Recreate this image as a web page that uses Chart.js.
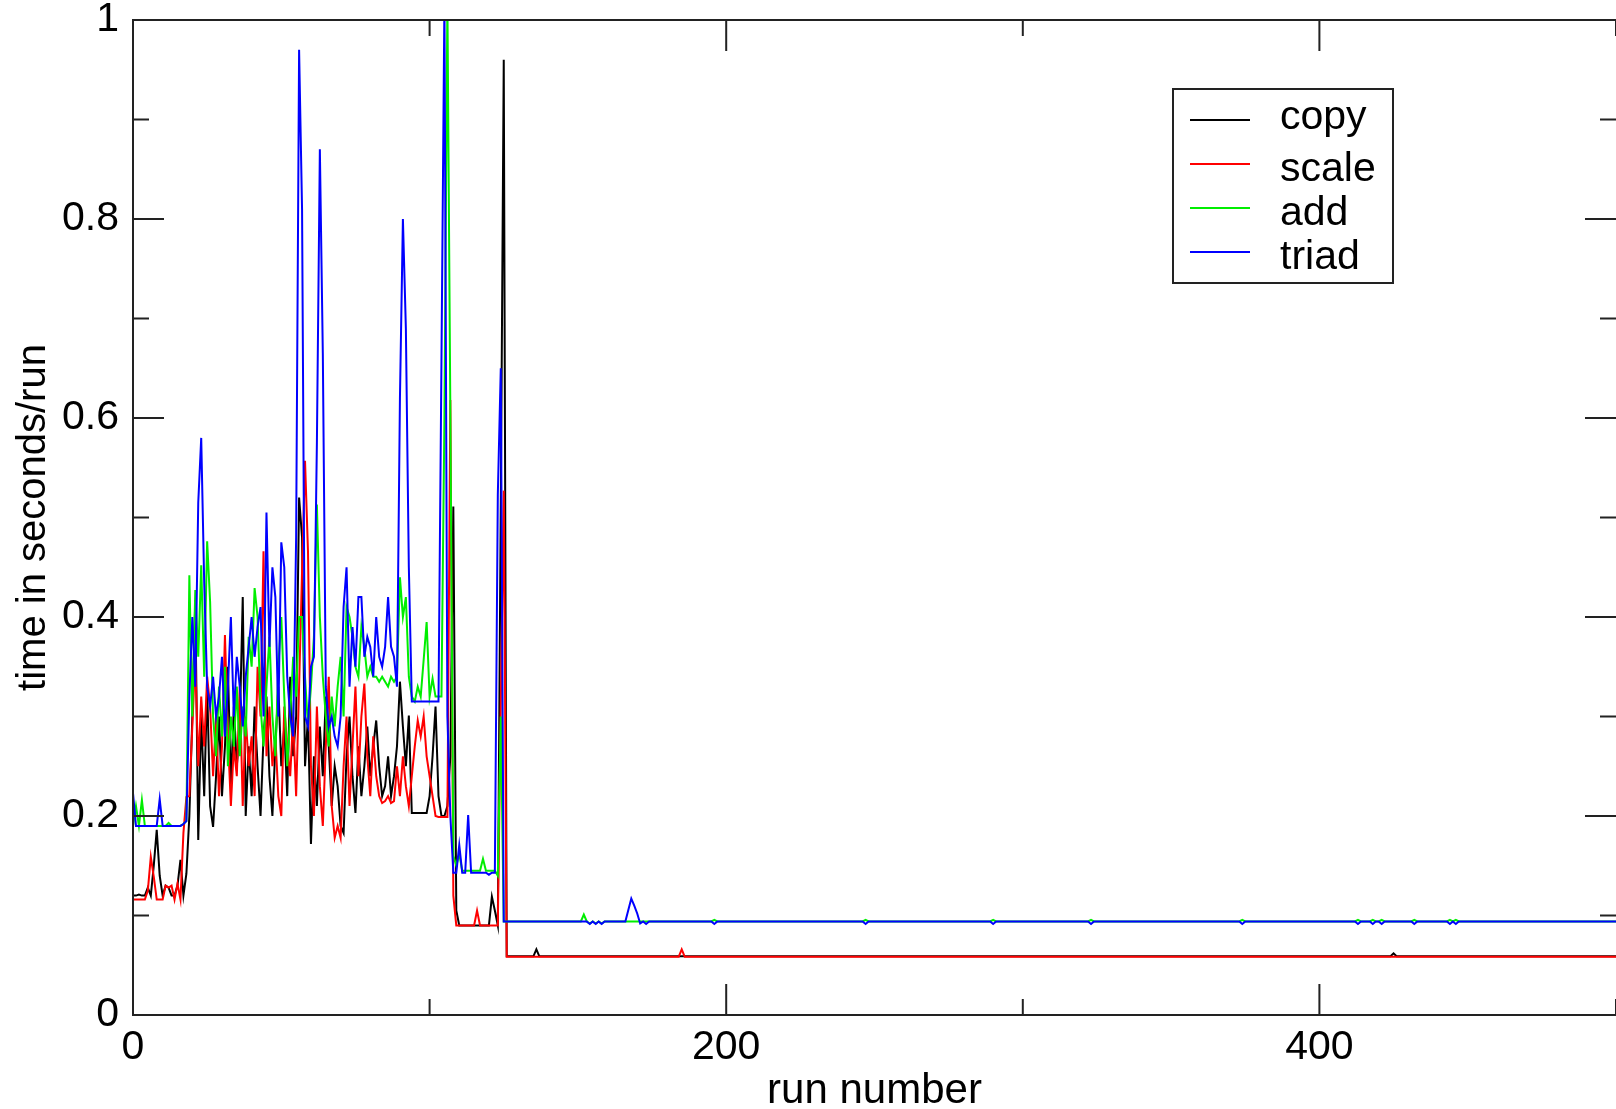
<!DOCTYPE html>
<html>
<head>
<meta charset="utf-8">
<script src="https://cdn.jsdelivr.net/npm/chart.js@4.4.1/dist/chart.umd.min.js"></script>
<style>
  html, body { margin: 0; padding: 0; background: #fff; }
  #wrap { width: 1616px; height: 1109px; }
</style>
</head>
<body>
<div id="wrap"><canvas id="streamChart"></canvas></div>
<script>
// run number = index in the *Early arrays (runs 0..125)
var copyEarly = [
  0.12, 0.12, 0.121, 0.12, 0.12, 0.128, 0.12, 0.15, 0.186, 0.14,
  0.12, 0.13, 0.128, 0.12, 0.12, 0.13, 0.156, 0.12, 0.142, 0.20,
  0.30, 0.417, 0.176, 0.30, 0.22, 0.33, 0.21, 0.189, 0.24, 0.30,
  0.22, 0.27, 0.35, 0.23, 0.31, 0.25, 0.29, 0.42, 0.20, 0.27,
  0.22, 0.31, 0.25, 0.20, 0.28, 0.32, 0.24, 0.20, 0.27, 0.33,
  0.25, 0.29, 0.22, 0.34, 0.26, 0.30, 0.52, 0.48, 0.25, 0.30,
  0.172, 0.26, 0.21, 0.29, 0.24, 0.32, 0.27, 0.21, 0.25, 0.23,
  0.19, 0.183, 0.26, 0.30, 0.24, 0.203, 0.27, 0.22, 0.25, 0.29,
  0.24, 0.27, 0.296, 0.25, 0.22, 0.23, 0.26, 0.22, 0.24, 0.27,
  0.335, 0.29, 0.25, 0.301, 0.203, 0.203, 0.203, 0.203, 0.203, 0.203,
  0.22, 0.26, 0.31, 0.22, 0.20, 0.20, 0.21, 0.26, 0.511, 0.105,
  0.09, 0.09, 0.09, 0.09, 0.09, 0.09, 0.09, 0.09, 0.09, 0.09,
  0.09, 0.119, 0.105, 0.09, 0.513, 0.96
];
var scaleEarly = [
  0.116, 0.116, 0.116, 0.116, 0.116, 0.125, 0.159, 0.139, 0.116, 0.116,
  0.116, 0.13, 0.128, 0.13, 0.116, 0.132, 0.116, 0.183, 0.219, 0.22,
  0.29, 0.36, 0.25, 0.32, 0.27, 0.34, 0.31, 0.24, 0.30, 0.22,
  0.27, 0.382, 0.28, 0.21, 0.27, 0.24, 0.33, 0.21, 0.30, 0.25,
  0.28, 0.22, 0.35, 0.30, 0.466, 0.26, 0.31, 0.25, 0.28, 0.22,
  0.20, 0.31, 0.27, 0.24, 0.30, 0.22, 0.33, 0.446, 0.557, 0.466,
  0.25, 0.20, 0.31, 0.23, 0.19, 0.27, 0.34, 0.21, 0.178, 0.19,
  0.178, 0.25, 0.30, 0.21, 0.27, 0.33, 0.24, 0.30, 0.333, 0.26,
  0.22, 0.28, 0.24, 0.22, 0.213, 0.215, 0.22, 0.213, 0.215, 0.25,
  0.22, 0.26, 0.23, 0.21, 0.24, 0.27, 0.296, 0.28, 0.30, 0.26,
  0.24, 0.22, 0.20, 0.199, 0.199, 0.199, 0.199, 0.618, 0.12, 0.09,
  0.09, 0.09, 0.09, 0.09, 0.09, 0.09, 0.105, 0.09, 0.09, 0.09,
  0.09, 0.09, 0.09, 0.09, 0.31, 0.527
];
var addEarly = [
  0.19, 0.21, 0.19, 0.216, 0.19, 0.19, 0.19, 0.19, 0.19, 0.19,
  0.19, 0.19, 0.193, 0.19, 0.19, 0.19, 0.19, 0.192, 0.195, 0.442,
  0.30, 0.427, 0.36, 0.452, 0.34, 0.476, 0.415, 0.30, 0.26, 0.33,
  0.28, 0.35, 0.25, 0.30, 0.27, 0.33, 0.26, 0.31, 0.28, 0.38,
  0.35, 0.429, 0.40, 0.31, 0.27, 0.33, 0.38, 0.30, 0.26, 0.35,
  0.40, 0.32, 0.25, 0.30, 0.36, 0.32, 0.40, 0.40, 0.34, 0.29,
  0.33, 0.38, 0.513, 0.40, 0.34, 0.30, 0.27, 0.32, 0.29, 0.33,
  0.36, 0.30, 0.41, 0.40, 0.38, 0.35, 0.34, 0.39, 0.37, 0.34,
  0.35, 0.34, 0.34, 0.335, 0.34, 0.335, 0.33, 0.34, 0.335, 0.34,
  0.44, 0.40, 0.42, 0.34, 0.32, 0.315, 0.33, 0.32, 0.357, 0.395,
  0.32, 0.338, 0.32, 0.32, 0.32, 0.60, 1.02, 0.605, 0.16, 0.15,
  0.162, 0.145, 0.145, 0.145, 0.145, 0.145, 0.145, 0.145, 0.157, 0.145,
  0.145, 0.145, 0.145, 0.14, 0.30, 0.094
];
var triadEarly = [
  0.223, 0.19, 0.19, 0.19, 0.19, 0.19, 0.19, 0.19, 0.19, 0.217,
  0.19, 0.19, 0.19, 0.19, 0.19, 0.19, 0.19, 0.192, 0.195, 0.32,
  0.40, 0.33, 0.515, 0.58, 0.435, 0.33, 0.31, 0.34, 0.30, 0.32,
  0.36, 0.28, 0.33, 0.40, 0.30, 0.36, 0.33, 0.29, 0.34, 0.37,
  0.40, 0.36, 0.39, 0.41, 0.30, 0.505, 0.37, 0.45, 0.42, 0.30,
  0.475, 0.45, 0.34, 0.30, 0.28, 0.48, 0.97, 0.81, 0.30, 0.29,
  0.35, 0.36, 0.575, 0.87, 0.665, 0.33, 0.29, 0.30, 0.28, 0.27,
  0.30, 0.41, 0.45, 0.33, 0.39, 0.35, 0.42, 0.42, 0.36, 0.38,
  0.37, 0.34, 0.40, 0.36, 0.35, 0.37, 0.42, 0.37, 0.36, 0.33,
  0.62, 0.80, 0.69, 0.45, 0.315, 0.315, 0.315, 0.315, 0.315, 0.315,
  0.315, 0.315, 0.315, 0.315, 0.657, 1.02, 0.30, 0.20, 0.143, 0.143,
  0.171, 0.143, 0.143, 0.201, 0.143, 0.143, 0.143, 0.143, 0.143, 0.143,
  0.141, 0.143, 0.143, 0.523, 0.65, 0.094
];

// after run 125 the values are flat, only the runs where something changes are listed
var copyTailRuns  = [126, 135, 136, 137, 424, 425, 426, 500];
var copyTailTimes = [0.059, 0.059, 0.066, 0.059, 0.059, 0.062, 0.059, 0.059];
var scaleTailRuns  = [126, 184, 185, 186, 500];
var scaleTailTimes = [0.0586, 0.0586, 0.066, 0.0586, 0.0586];
var addTailRuns = [126, 151, 152, 153, 154, 155, 156, 157, 158, 159,
  195, 196, 197, 246, 247, 248, 289, 290, 291, 322, 323, 324,
  373, 374, 375, 412, 413, 414, 417, 418, 419, 420, 421, 422,
  431, 432, 433, 443, 444, 445, 446, 447, 500];
var addTailTimes = [0.094, 0.094, 0.101, 0.094, 0.092, 0.094, 0.092, 0.094, 0.092, 0.094,
  0.094, 0.0955, 0.094, 0.094, 0.0955, 0.094, 0.094, 0.0955, 0.094, 0.094, 0.0955, 0.094,
  0.094, 0.0955, 0.094, 0.094, 0.0955, 0.094, 0.094, 0.0955, 0.094, 0.094, 0.0955, 0.094,
  0.094, 0.0955, 0.094, 0.094, 0.0955, 0.094, 0.0955, 0.094, 0.094];
var triadTailRuns = [126, 153, 154, 155, 156, 157, 158, 159,
  166, 167, 168, 169, 170, 171, 172, 173, 174,
  195, 196, 197, 246, 247, 248, 289, 290, 291, 322, 323, 324,
  373, 374, 375, 412, 413, 414, 417, 418, 419, 420, 421, 422,
  431, 432, 433, 443, 444, 445, 446, 447, 500];
var triadTailTimes = [0.094, 0.094, 0.0915, 0.094, 0.0915, 0.094, 0.0915, 0.094,
  0.094, 0.1055, 0.117, 0.110, 0.102, 0.092, 0.094, 0.0915, 0.094,
  0.094, 0.0915, 0.094, 0.094, 0.0915, 0.094, 0.094, 0.0915, 0.094, 0.094, 0.0915, 0.094,
  0.094, 0.0915, 0.094, 0.094, 0.0915, 0.094, 0.094, 0.0915, 0.094, 0.094, 0.0915, 0.094,
  0.094, 0.0915, 0.094, 0.094, 0.0915, 0.094, 0.0915, 0.094, 0.094];

var seriesNames = ['copy', 'scale', 'add', 'triad'];
var seriesColors = ['#000000', '#ff0000', '#00ee00', '#0000ff'];

var fontFamily = "'Liberation Sans', Arial, Helvetica, sans-serif";

function toPoints(early, tailRuns, tailTimes) {
  var pts = [];
  for (var i = 0; i < early.length; i++) pts.push({x: i, y: early[i]});
  for (var j = 0; j < tailRuns.length; j++) pts.push({x: tailRuns[j], y: tailTimes[j]});
  return pts;
}

var allData = [
  toPoints(copyEarly, copyTailRuns, copyTailTimes),
  toPoints(scaleEarly, scaleTailRuns, scaleTailTimes),
  toPoints(addEarly, addTailRuns, addTailTimes),
  toPoints(triadEarly, triadTailRuns, triadTailTimes)
];

var datasets = [];
for (var k = 0; k < seriesNames.length; k++) {
  datasets.push({
    label: seriesNames[k],
    data: allData[k],
    borderColor: seriesColors[k],
    backgroundColor: seriesColors[k],
    borderWidth: 2,
    pointRadius: 0,
    tension: 0,
    fill: false,
    order: seriesNames.length - k   // triad drawn last, on top
  });
}

// frame + inward ticks on all four sides (xmgrace look)
var frameTicks = {
  id: 'frameTicks',
  afterDatasetsDraw: function (chart) {
    var ctx = chart.ctx, a = chart.chartArea;
    var xs = chart.scales.x, ys = chart.scales.y;
    ctx.save();
    ctx.strokeStyle = '#222';
    ctx.lineWidth = 2;
    ctx.beginPath();
    ctx.moveTo(a.right + 2, a.top);
    ctx.lineTo(a.left, a.top);
    ctx.lineTo(a.left, a.bottom);
    ctx.lineTo(a.right + 2, a.bottom);
    xs.ticks.forEach(function (t) {
      var px = xs.getPixelForValue(t.value);
      var len = (t.value % 200 === 0) ? 31 : 16;
      ctx.moveTo(px, a.bottom); ctx.lineTo(px, a.bottom - len);
      ctx.moveTo(px, a.top); ctx.lineTo(px, a.top + len);
    });
    ys.ticks.forEach(function (t) {
      var py = ys.getPixelForValue(t.value);
      var len = (Math.round(t.value * 10) % 2 === 0) ? 31 : 16;
      ctx.moveTo(a.left, py); ctx.lineTo(a.left + len, py);
      ctx.moveTo(a.right, py); ctx.lineTo(a.right - len, py);
    });
    ctx.stroke();
    ctx.restore();
  }
};

// boxed legend inside the plot, text bbox centred on its line like grace does
var boxLegend = {
  id: 'boxLegend',
  afterDraw: function (chart) {
    var ctx = chart.ctx;
    var bx = 1173, by = 89, bw = 220, bh = 194;
    var rowY = 120, rowStep = 44;
    ctx.save();
    ctx.strokeStyle = '#222';
    ctx.lineWidth = 2;
    ctx.strokeRect(bx, by, bw, bh);
    ctx.font = '41px ' + fontFamily;
    ctx.fillStyle = '#000';
    ctx.textAlign = 'left';
    ctx.textBaseline = 'alphabetic';
    chart.data.datasets.forEach(function (ds, i) {
      var y = rowY + i * rowStep;
      ctx.strokeStyle = ds.borderColor;
      ctx.beginPath();
      ctx.moveTo(bx + 17, y);
      ctx.lineTo(bx + 77, y);
      ctx.stroke();
      var m = ctx.measureText(ds.label);
      var base = y + (m.actualBoundingBoxAscent - m.actualBoundingBoxDescent) / 2 + 1.5;
      ctx.fillText(ds.label, bx + 107, base);
    });
    ctx.restore();
  }
};

var streamChart = new Chart(document.getElementById('streamChart').getContext('2d'), {
  type: 'line',
  data: { datasets: datasets },
  options: {
    responsive: true,
    maintainAspectRatio: false,
    animation: false,
    events: [],
    layout: { padding: { top: 20, right: 0, bottom: 0, left: 0 } },
    plugins: {
      legend: { display: false },
      tooltip: { enabled: false }
    },
    scales: {
      x: {
        type: 'linear',
        min: 0,
        max: 500,
        grid: { display: false, drawTicks: false },
        border: { display: false },
        ticks: {
          stepSize: 100,
          autoSkip: false,
          maxRotation: 0,
          padding: 8,
          color: '#000',
          font: { family: fontFamily, size: 41 },
          callback: function (v) { return v % 200 === 0 ? String(v) : ''; }
        },
        title: {
          display: true,
          text: 'run number',
          color: '#000',
          font: { family: fontFamily, size: 42, lineHeight: 1.0 },
          padding: { top: 0, bottom: -3 }
        },
        afterFit: function (s) {
          s.height = 94;
          s.paddingLeft = 0;
          s.paddingRight = 0;
        }
      },
      y: {
        min: 0,
        max: 1,
        grid: { display: false, drawTicks: false },
        border: { display: false },
        ticks: {
          stepSize: 0.1,
          autoSkip: false,
          padding: 14,
          color: '#000',
          font: { family: fontFamily, size: 41, lineHeight: 0.9 },
          callback: function (v) {
            var k = Math.round(v * 10);
            return k % 2 === 0 ? String(k / 10) : '';
          }
        },
        title: {
          display: true,
          text: 'time in seconds/run',
          color: '#000',
          font: { family: fontFamily, size: 40 },
          padding: { top: 10, bottom: 0 }
        },
        afterFit: function (s) {
          s.width = 133;
          s.paddingTop = 0;
          s.paddingBottom = 0;
        }
      }
    }
  },
  plugins: [frameTicks, boxLegend]
});
</script>
</body>
</html>
